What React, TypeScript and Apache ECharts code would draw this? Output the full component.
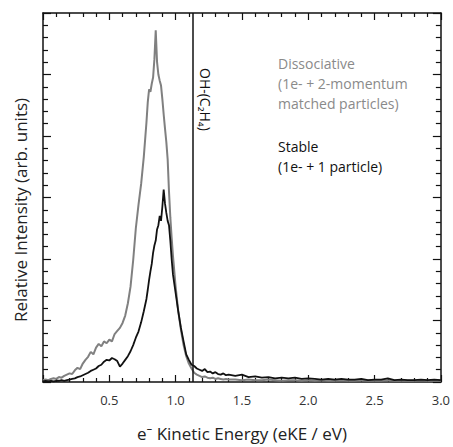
import React, { useEffect, useRef } from "react";
import * as echarts from "echarts";

const eKE = [
  0.0, 0.02, 0.04, 0.06, 0.08, 0.1, 0.12, 0.14, 0.16, 0.18,
  0.2, 0.22, 0.24, 0.26, 0.28, 0.3, 0.32, 0.34, 0.36, 0.38,
  0.4, 0.42, 0.44, 0.46, 0.48, 0.5, 0.52, 0.54, 0.56, 0.58,
  0.6, 0.62, 0.64, 0.66, 0.68, 0.7, 0.72, 0.74, 0.76, 0.78,
  0.79, 0.8, 0.81, 0.82, 0.83, 0.84, 0.85, 0.86, 0.87, 0.88,
  0.89, 0.9, 0.91, 0.92, 0.93, 0.94, 0.95, 0.96, 0.97, 0.98,
  1.0, 1.02, 1.04, 1.06, 1.08, 1.1, 1.12, 1.14, 1.16, 1.18,
  1.2, 1.22, 1.24, 1.26, 1.28, 1.3, 1.32, 1.34, 1.36, 1.38, 1.4,
  1.45, 1.5, 1.55, 1.6, 1.65, 1.7, 1.75, 1.8, 1.85, 1.9,
  1.95, 2.0, 2.05, 2.1, 2.15, 2.2, 2.25, 2.3, 2.35, 2.4,
  2.45, 2.5, 2.55, 2.6, 2.65, 2.7, 2.75, 2.8, 2.85, 2.9, 2.95, 3.0,
];

const dissociative = [
  0.03, 0.04, 0.03, 0.05, 0.06, 0.05, 0.08, 0.07, 0.1, 0.12,
  0.14, 0.13, 0.19, 0.23, 0.21, 0.3, 0.36, 0.41, 0.49, 0.45,
  0.56, 0.62, 0.58, 0.66, 0.63, 0.69, 0.66, 0.78, 0.83, 0.88,
  0.96, 1.08, 1.28, 1.55, 1.98, 2.5, 2.88, 3.22, 3.66, 4.22,
  4.55, 4.76, 4.72, 4.85, 4.95, 5.25, 5.72, 5.2, 5.0, 4.9,
  4.82, 4.6, 4.35, 4.12, 3.9, 3.62, 3.1, 2.68, 2.35, 2.05,
  1.55, 1.15, 0.85, 0.6, 0.42, 0.3, 0.22, 0.15, 0.12, 0.1,
  0.08, 0.09, 0.07, 0.06, 0.07, 0.05, 0.06, 0.05, 0.04, 0.05, 0.04,
  0.04, 0.03, 0.04, 0.03, 0.03, 0.04, 0.03, 0.02, 0.03, 0.03,
  0.02, 0.03, 0.02, 0.03, 0.02, 0.02, 0.03, 0.02, 0.02, 0.03,
  0.02, 0.02, 0.02, 0.03, 0.02, 0.02, 0.02, 0.02, 0.03, 0.02, 0.02, 0.02,
];

const stable = [
  0.01, 0.02, 0.01, 0.02, 0.01, 0.02, 0.02, 0.03, 0.02, 0.03,
  0.04, 0.05, 0.06, 0.08, 0.09, 0.11, 0.13, 0.15, 0.18, 0.2,
  0.22, 0.26, 0.28, 0.33, 0.36, 0.35, 0.39, 0.37, 0.34, 0.25,
  0.3, 0.36, 0.42, 0.5, 0.6, 0.72, 0.82, 0.97, 1.15, 1.35,
  1.5, 1.66, 1.8, 1.92, 2.1, 2.22, 2.3, 2.48, 2.55, 2.7,
  2.62, 2.85, 3.13, 2.9, 2.75, 2.62, 2.55, 2.3, 2.0, 1.75,
  1.45, 1.15, 0.88, 0.66, 0.45, 0.36, 0.28, 0.26, 0.22, 0.2,
  0.18, 0.21, 0.16, 0.17, 0.14, 0.16, 0.13, 0.12, 0.14, 0.11, 0.12,
  0.1, 0.12, 0.08, 0.09, 0.07, 0.08, 0.06, 0.07, 0.06, 0.07,
  0.05, 0.06, 0.05, 0.04, 0.05, 0.04, 0.05, 0.04, 0.04, 0.05,
  0.03, 0.04, 0.04, 0.06, 0.03, 0.04, 0.03, 0.03, 0.04, 0.03, 0.04, 0.03,
];

const xTicks = [0.5, 1.0, 1.5, 2.0, 2.5, 3.0];
const markerEKE = 1.125;

const FONT = "'Open Sans', 'Noto Sans', sans-serif";

export default function App() {
  const ref = useRef<HTMLDivElement>(null);
  useEffect(() => {
    if (!ref.current) return;
    const chart = echarts.init(ref.current, null, { renderer: "svg" });
    const axisLine = { show: true, onZero: false, lineStyle: { color: "#111", width: 1.5 } };
    const tickStyle = { color: "#111", width: 1.2 };
    const option: any = {
      animation: false,
      grid: { left: 43, right: 12, top: 13, bottom: 60, containLabel: false },
      xAxis: [
        {
          type: "value",
          min: 0,
          max: 3,
          interval: 0.5,
          axisLine,
          axisTick: { show: true, inside: true, length: 7, lineStyle: tickStyle },
          minorTick: { show: true, splitNumber: 5, length: 4, lineStyle: tickStyle },
          splitLine: { show: false },
          axisLabel: {
            color: "#333",
            fontSize: 13,
            fontFamily: FONT,
            margin: 11,
            formatter: (v: number) => (xTicks.includes(v) ? v.toFixed(1) : ""),
          },
          name: "e\u207B Kinetic Energy (eKE / eV)",
          nameLocation: "middle",
          nameGap: 43,
          nameTextStyle: { color: "#222", fontSize: 17, fontFamily: FONT },
        },
        {
          type: "value",
          position: "top",
          min: 0,
          max: 3,
          interval: 0.5,
          axisLine,
          axisTick: { show: true, inside: true, length: 7, lineStyle: tickStyle },
          minorTick: { show: true, splitNumber: 5, length: 4, lineStyle: tickStyle },
          splitLine: { show: false },
          axisLabel: { show: false },
        },
      ],
      yAxis: [
        {
          type: "value",
          min: 0,
          max: 6,
          interval: 1,
          axisLine,
          axisTick: { show: true, inside: true, length: 8, lineStyle: tickStyle },
          minorTick: { show: true, splitNumber: 5, length: 5, lineStyle: tickStyle },
          splitLine: { show: false },
          axisLabel: { show: false },
        },
        {
          type: "value",
          position: "right",
          min: 0,
          max: 6,
          interval: 1,
          axisLine,
          axisTick: { show: true, inside: true, length: 8, lineStyle: tickStyle },
          minorTick: { show: true, splitNumber: 5, length: 5, lineStyle: tickStyle },
          splitLine: { show: false },
          axisLabel: { show: false },
        },
      ],
      series: [
        {
          name: "Dissociative",
          type: "line",
          data: eKE.map((x, i) => [x, dissociative[i]]),
          showSymbol: false,
          lineStyle: { color: "#808080", width: 2 },
          z: 2,
        },
        {
          name: "Stable",
          type: "line",
          data: eKE.map((x, i) => [x, stable[i]]),
          showSymbol: false,
          lineStyle: { color: "#111", width: 1.8 },
          z: 3,
          markLine: {
            silent: true,
            symbol: "none",
            label: { show: false },
            lineStyle: { color: "#111", width: 1.5, type: "solid" },
            data: [{ xAxis: markerEKE }],
          },
        },
      ],
      graphic: [
        {
          type: "text",
          x: 20,
          y: 210,
          rotation: Math.PI / 2,
          style: {
            text: "Relative Intensity (arb. units)",
            fill: "#222",
            font: `17px ${FONT}`,
            textAlign: "center",
            textVerticalAlign: "middle",
          },
        },
        {
          type: "text",
          x: 198,
          y: 68,
          rotation: -Math.PI / 2,
          style: {
            text: "OH-(C\u2082H\u2084)",
            fill: "#111",
            font: `14px ${FONT}`,
            textAlign: "left",
            textVerticalAlign: "bottom",
          },
        },
        {
          type: "text",
          x: 278,
          y: 53,
          style: {
            text: "Dissociative\n(1e- + 2-momentum\nmatched particles)",
            fill: "#8a8a8a",
            font: `14px ${FONT}`,
            lineHeight: 20,
          },
        },
        {
          type: "text",
          x: 278,
          y: 136,
          style: {
            text: "Stable\n(1e- + 1 particle)",
            fill: "#111",
            font: `14px ${FONT}`,
            lineHeight: 20,
          },
        },
      ],
    };
    chart.setOption(option);
    return () => chart.dispose();
  }, []);
  return (
    <div
      ref={ref}
      style={{ position: "absolute", left: 0, top: 0, width: 453, height: 447 }}
    />
  );
}
